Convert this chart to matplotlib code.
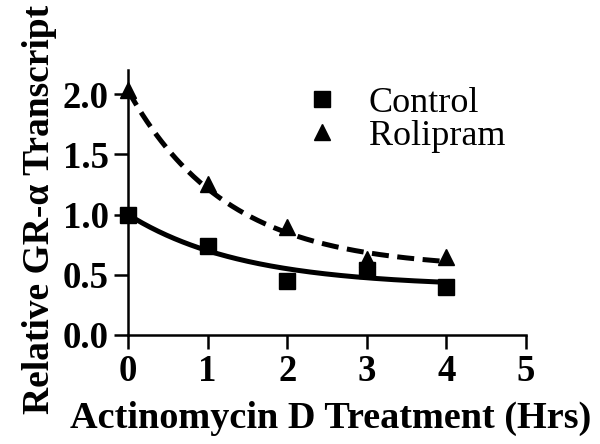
import numpy as np
import matplotlib
matplotlib.use("Agg")
import matplotlib.pyplot as plt

hours = [0, 1, 2, 3, 4]
control = [1.00, 0.74, 0.45, 0.54, 0.40]
rolipram = [2.03, 1.25, 0.90, 0.63, 0.65]

# one-phase decay fit parameters (Y0, plateau, k)
control_fit = (1.00, 0.40, 0.693)
rolipram_fit = (2.03, 0.55, 0.80)

xticks = [0, 1, 2, 3, 4, 5]
yticks = [0.0, 0.5, 1.0, 1.5, 2.0]

plt.rcParams['font.family'] = ['Liberation Serif', 'DejaVu Serif']

fig = plt.figure(figsize=(6, 4.44), dpi=100)
ax = fig.add_axes([0.2133, 0.2455, 0.6634, 0.5968])

xs = np.linspace(0, 4, 200)
def decay(p, x):
    y0, plat, k = p
    return (y0 - plat) * np.exp(-k * x) + plat

ax.plot(xs, decay(control_fit, xs), color='black', lw=3.6, solid_capstyle='butt')
ax.plot(xs, decay(rolipram_fit, xs), color='black', lw=3.6, dashes=(3.4, 1.7))
ax.plot(hours, control, 's', color='black', ms=11.5, label='Control', clip_on=False)
ax.plot(hours, rolipram, '^', color='black', ms=11, label='Rolipram', clip_on=False)

ax.set_xlim(0, 5)
ax.set_ylim(0, 2.2)
ax.set_xticks(xticks)
ax.set_yticks(yticks)
ax.set_xticklabels([str(t) for t in xticks])
ax.set_yticklabels(['%.1f' % t for t in yticks])
for s in ['top', 'right']:
    ax.spines[s].set_visible(False)
for s in ['left', 'bottom']:
    ax.spines[s].set_linewidth(1.8)
ax.tick_params(direction='out', length=10, width=1.8, labelsize=26.5, pad=4)
for lab in ax.get_xticklabels() + ax.get_yticklabels():
    lab.set_fontweight('bold')

ax.set_xlabel('Actinomycin D Treatment (Hrs)', fontsize=27.5, fontweight='bold')
ax.xaxis.label.set_va('baseline')
ax.xaxis.set_label_coords(0.508, -0.351)
ax.set_ylabel('Relative GR-α Transcript', fontsize=27, fontweight='bold')
ax.yaxis.label.set_va('baseline')
ax.yaxis.set_label_coords(-0.1985, 0.472)

leg = ax.legend(loc='center left', bbox_to_anchor=(0.442, 0.813), frameon=False,
                fontsize=26, handlelength=1.0, handletextpad=0.8, labelspacing=0.0,
                borderaxespad=0, borderpad=0)

fig.savefig('out.png', dpi=100)
